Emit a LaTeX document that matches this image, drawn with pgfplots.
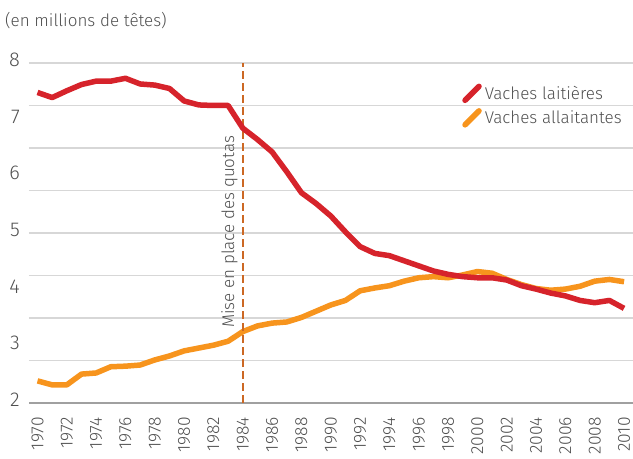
\documentclass[border=0pt]{standalone}
\usepackage{fontspec}
\setmainfont{Fira Sans Light}
\usepackage{pgfplots}
\pgfplotsset{compat=1.18}
\definecolor{laitred}{RGB}{214,35,43}
\definecolor{allaorange}{RGB}{247,148,29}
\definecolor{quotaorange}{RGB}{204,104,36}
\definecolor{gridgray}{RGB}{215,215,215}
\definecolor{axisgray}{RGB}{160,160,160}
\definecolor{textgray}{RGB}{80,80,80}

\begin{document}
\begin{tikzpicture}
\begin{axis}[name=ax, at={(0,0)}, anchor=south west,
  scale only axis, width=604bp, height=340bp,
  xmin=1969.42, xmax=2010.61, ymin=2, ymax=8,
  axis line style={draw=none},
  major tick length=0pt,
  xtick={1970,1972,...,2010},
  ytick={2,...,8},
  /pgf/number format/assume math mode=true,
  /pgf/number format/1000 sep={},
  xticklabel style={rotate=90, anchor=east, inner xsep=14bp, inner ysep=0pt,
    font=\fontsize{17.5bp}{17.5bp}\selectfont, text=textgray},
  yticklabel style={anchor=east, inner sep=0pt, xshift=-9bp, yshift=3bp,
    font=\fontsize{20bp}{20bp}\selectfont, text=textgray},
  extra y ticks={2.75,3.5,4.25,5,5.75,6.5,7.25,8},
  extra y tick style={grid=major, yticklabel={}},
  major grid style={gridgray, line width=1.3bp},
  clip=false,
  legend style={at={(0.717,0.94)}, anchor=north west, draw=none, fill=none,
    inner sep=0pt, row sep=5bp, column sep=3bp,
    font=\fontsize{17bp}{17bp}\selectfont, text=textgray,
    nodes={inner sep=0pt, text depth=0.15em}},
  legend cell align=left,
  reverse legend,
  legend image code/.code={\draw[#1, line cap=round] (0bp,-7bp) -- (14bp,7bp);},
]
% axe du bas
\draw[axisgray, line width=2bp] (rel axis cs:0,0) -- (rel axis cs:1,0);

% vaches allaitantes
\addplot[allaorange, line width=5.5bp, line join=round] coordinates {
  (1970,2.39) (1971,2.32) (1972,2.32) (1973,2.51) (1974,2.53) (1975,2.64)
  (1976,2.65) (1977,2.67) (1978,2.76) (1979,2.83) (1980,2.92) (1981,2.97)
  (1982,3.02) (1983,3.09) (1984,3.26) (1985,3.36) (1986,3.41) (1987,3.43)
  (1988,3.51) (1989,3.62) (1990,3.73) (1991,3.81) (1992,3.98) (1993,4.03)
  (1994,4.07) (1995,4.15) (1996,4.21) (1997,4.23) (1998,4.21) (1999,4.26)
  (2000,4.32) (2001,4.29) (2002,4.18) (2003,4.09) (2004,4.02) (2005,3.99)
  (2006,4.01) (2007,4.06) (2008,4.15) (2009,4.18) (2010,4.14)};
\addlegendentry{Vaches allaitantes}

% mise en place des quotas
\addplot[quotaorange, line width=2.5bp, dash pattern=on 8bp off 4bp, forget plot]
  coordinates {(1984,2) (1984,8)};

% vaches laitieres
\addplot[laitred, line width=5.5bp, line join=round] coordinates {
  (1970,7.48) (1971,7.39) (1972,7.51) (1973,7.62) (1974,7.68) (1975,7.68)
  (1976,7.73) (1977,7.63) (1978,7.61) (1979,7.55) (1980,7.33) (1981,7.26)
  (1982,7.25) (1983,7.25) (1984,6.85) (1985,6.65) (1986,6.43) (1987,6.08)
  (1988,5.71) (1989,5.52) (1990,5.30) (1991,5.02) (1992,4.76) (1993,4.64)
  (1994,4.60) (1995,4.51) (1996,4.42) (1997,4.33) (1998,4.27) (1999,4.23)
  (2000,4.21) (2001,4.21) (2002,4.17) (2003,4.07) (2004,4.01) (2005,3.94)
  (2006,3.89) (2007,3.81) (2008,3.77) (2009,3.81) (2010,3.67)};
\addlegendentry{Vaches laitières}

\node[rotate=90, anchor=south, inner sep=0pt, text=textgray,
  font=\fontsize{17bp}{17bp}\selectfont]
  at ([xshift=-5bp]axis cs:1984,5.02) {Mise en place des quotas};
\end{axis}

\node[anchor=north west, inner sep=0pt, text=textgray,
  font=\fontsize{17bp}{17bp}\selectfont]
  at ([xshift=-24bp, yshift=51bp]ax.north west) {(en millions de têtes)};

\pgfresetboundingbox
\useasboundingbox ([xshift=-29bp, yshift=-56bp]ax.south west)
  rectangle ([yshift=63bp]ax.north east);
\end{tikzpicture}
\end{document}
